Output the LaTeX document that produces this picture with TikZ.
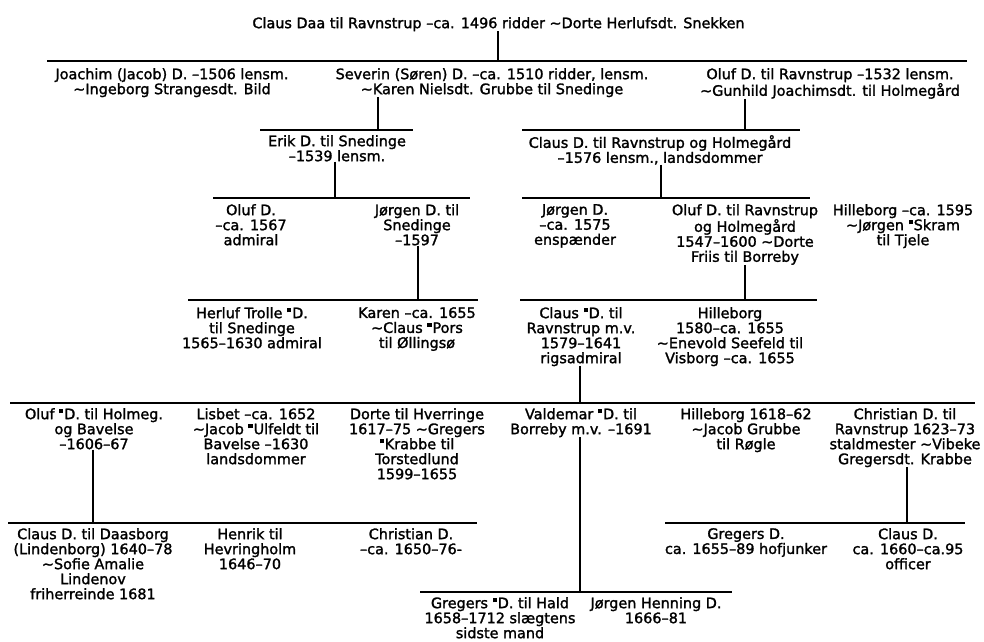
\documentclass[tikz,border=0pt]{standalone}
\usepackage{fontspec}
\setmainfont[FakeBold=1.6]{DejaVu Sans}
\newcommand{\gift}{\textasciitilde}
\newcommand{\ssq}{\raisebox{0.4em}{\rule{0.3em}{0.3em}}\kern0.06em}

\begin{document}
\begin{tikzpicture}[x=1pt,y=-1pt,
person/.style={align=center,inner sep=0pt,anchor=north,font=\fontsize{14.4}{15}\selectfont},
line/.style={line width=1.2pt}
]
\fill[white] (0,0) rectangle (984,641);
\useasboundingbox (0,0) rectangle (984,641);
\node[person] (root) at (498.5,17) {Claus Daa til Ravnstrup –ca. 1496 ridder \gift Dorte Herlufsdt. Snekken};
\node[person] (joachim) at (172,68) {Joachim (Jacob) D. –1506 lensm.\\\gift Ingeborg Strangesdt. Bild};
\node[person] (severin) at (492,68) {Severin (Søren) D. –ca. 1510 ridder, lensm.\\\gift Karen Nielsdt. Grubbe til Snedinge};
\node[person] (olufr) at (830,68) {Oluf D. til Ravnstrup –1532 lensm.\\\gift Gunhild Joachimsdt. til Holmegård};
\node[person] (erik) at (337,135) {Erik D. til Snedinge\\–1539 lensm.};
\node[person] (claush) at (660,135) {Claus D. til Ravnstrup og Holmegård\\–1576 lensm., landsdommer};
\node[person] (olufd) at (251,204) {Oluf D.\\–ca. 1567\\admiral};
\node[person] (jorgens) at (417,204) {Jørgen D. til\\Snedinge\\–1597};
\node[person] (jorgene) at (575,204) {Jørgen D.\\–ca. 1575\\enspænder};
\node[person] (olufh) at (745,204) {Oluf D. til Ravnstrup\\og Holmegård\\1547–1600 \gift Dorte\\Friis til Borreby};
\node[person] (hilleb) at (903,204) {Hilleborg –ca. 1595\\\gift Jørgen \ssq Skram\\til Tjele};
\node[person] (herluf) at (252,307) {Herluf Trolle \ssq D.\\til Snedinge\\1565–1630 admiral};
\node[person] (karen) at (417,307) {Karen –ca. 1655\\\gift Claus \ssq Pors\\til Øllingsø};
\node[person] (clausr) at (581,307) {Claus \ssq D. til\\Ravnstrup m.v.\\1579–1641\\rigsadmiral};
\node[person] (hillebs) at (730,307) {Hilleborg\\1580–ca. 1655\\\gift Enevold Seefeld til\\Visborg –ca. 1655};
\node[person] (olufb) at (94,408) {Oluf \ssq D. til Holmeg.\\og Bavelse\\–1606–67};
\node[person] (lisbet) at (256,408) {Lisbet –ca. 1652\\\gift Jacob \ssq Ulfeldt til\\Bavelse –1630\\landsdommer};
\node[person] (dorte) at (417,408) {Dorte til Hverringe\\1617–75 \gift Gregers\\\ssq Krabbe til\\Torstedlund\\1599–1655};
\node[person] (valdemar) at (581,408) {Valdemar \ssq D. til\\Borreby m.v. –1691};
\node[person] (hillebg) at (746,408) {Hilleborg 1618–62\\\gift Jacob Grubbe\\til Røgle};
\node[person] (christianr) at (905,408) {Christian D. til\\Ravnstrup 1623–73\\staldmester \gift Vibeke\\Gregersdt. Krabbe};
\node[person] (clausd) at (93,528) {Claus D. til Daasborg\\(Lindenborg) 1640–78\\\gift Sofie Amalie\\Lindenov\\friherreinde 1681};
\node[person] (henrik) at (250,528) {Henrik til\\Hevringholm\\1646–70};
\node[person] (christiand) at (411,528) {Christian D.\\–ca. 1650–76-};
\node[person] (gregersd) at (746,528) {Gregers D.\\ca. 1655–89 hofjunker};
\node[person] (clauso) at (908,528) {Claus D.\\ca. 1660–ca.95\\officer};
\node[person] (gregers) at (500,597) {Gregers \ssq D. til Hald\\1658–1712 slægtens\\sidste mand};
\node[person] (jorgenh) at (656,597) {Jørgen Henning D.\\1666–81};
\foreach \n/\a/\b/\y in {a/47/967/61, b/260/413/130, c/522/800/130, d/213/470/198, e/522/810/198,
  f/188/478/300, g/520/817/300, h/10/975/403, i/8/477/523, j/665/965/523, k/420/732/592}{
  \coordinate (\n l) at (\a,\y);
  \coordinate (\n r) at (\b,\y);
  \draw[line] (\n l) -- (\n r);
}
\foreach \p/\x/\y in {root/498/61, severin/378/130, olufr/745/130, erik/335/198, claush/661/198,
  jorgens/418/300, olufh/745/300, clausr/580/403, olufb/93/523, valdemar/580/592, christianr/907/523}{
  \coordinate (t\p) at (\x,\y);
  \draw[line] (t\p |- \p.south) -- (t\p);
}
\end{tikzpicture}
\end{document}
